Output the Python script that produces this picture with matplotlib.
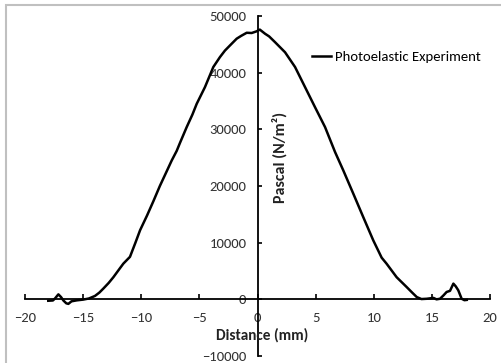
import matplotlib
matplotlib.use("Agg")
import matplotlib.pyplot as plt
from matplotlib.patches import Rectangle

plt.rcParams["font.family"] = ["Carlito", "Lato", "DejaVu Sans"]

# Photoelastic stress profile
distance_mm = [
    -18.0, -17.6, -17.42, -17.13, -16.9, -16.7, -16.45, -16.27, -16.0, -15.55,
    -15.0, -14.5, -13.98, -13.6, -13.26, -12.8, -12.4, -11.9, -11.54, -10.97,
    -10.5, -10.1, -9.5, -8.96, -8.4, -7.81, -7.38, -6.95, -6.67, -6.09,
    -5.6, -5.23, -4.52, -3.8, -3.23, -2.8, -2.37, -1.79, -1.4, -0.93,
    -0.5, -0.07, 0.2, 0.65, 1.0, 1.5, 2.37, 3.23, 4.09, 4.95,
    5.81, 6.67, 7.38, 8.24, 9.1, 9.96, 10.68, 11.1, 11.97, 12.83,
    13.3, 13.7, 14.1, 14.56, 15.13, 15.4, 15.7, 16.0, 16.27, 16.56,
    16.85, 17.05, 17.27, 17.56, 17.8, 18.0,
]
pressure_pa = [
    -250, -200, 150, 880, 400, -200, -700, -800, -350, -180,
    -50, 150, 600, 1200, 1900, 2900, 3900, 5300, 6300, 7500,
    10000, 12200, 14800, 17300, 20000, 22600, 24500, 26200, 27600, 30400,
    32600, 34500, 37450, 41000, 42750, 43900, 44800, 46000, 46500, 47040,
    47000, 47300, 47600, 46870, 46400, 45400, 43600, 41000, 37450, 33900,
    30400, 26000, 22750, 18650, 14500, 10400, 7350, 6300, 3900, 2170,
    1200, 400, 50, 100, 250, 0, 100, 700, 1300, 1500,
    2770, 2300, 1600, 100, -150, -100,
]

xlim = (-20, 20)
ylim = (-10000, 50000)
xticks = [-20, -15, -10, -5, 0, 5, 10, 15, 20]
yticks = [-10000, 0, 10000, 20000, 30000, 40000, 50000]

W, H = 501, 363
fig = plt.figure(figsize=(W / 100, H / 100), dpi=100)
ax = fig.add_axes([25 / W, 1 - 356 / H, (490 - 25) / W, (356 - 16) / H])

ax.plot(distance_mm, pressure_pa, color="black", lw=1.8,
        label="Photoelastic Experiment")

ax.set_xlim(*xlim)
ax.set_ylim(*ylim)
ax.set_xticks(xticks)
ax.set_yticks(yticks)

# axes cross at the origin, Excel style
ax.spines["left"].set_position(("data", 0))
ax.spines["bottom"].set_position(("data", 0))
ax.spines["top"].set_visible(False)
ax.spines["right"].set_visible(False)
for s in ("left", "bottom"):
    ax.spines[s].set_linewidth(1.3)

ax.tick_params(axis="x", direction="in", length=3.5, width=1.2, pad=9,
               labelsize=10.5, labelcolor="#333333")
ax.tick_params(axis="y", direction="in", length=3, width=1.2, pad=8,
               labelsize=10.5, labelcolor="#333333")
ax.patch.set_visible(False)

fig.text(262 / W, 1 - 335 / H, "Distance (mm)", ha="center", va="center",
         fontsize=11, fontweight="bold", color="#222222")
fig.text(280 / W, 1 - 157 / H, "Pascal (N/m²)", ha="center", va="center",
         rotation=90, fontsize=11.5, fontweight="bold", color="#222222")

ax.legend(loc="center left", bbox_to_anchor=(312 / W, 1 - 57 / H),
          bbox_transform=fig.transFigure, frameon=False, borderpad=0,
          borderaxespad=0, handlelength=1.3, handletextpad=0.25,
          fontsize=10.6)

# chart area border
fig.add_artist(Rectangle((6 / W, -0.1), 1.0, 1.1 - 4.5 / H,
                         transform=fig.transFigure, fill=False,
                         edgecolor="#c0c0c0", lw=1.5))

fig.savefig("out.png", dpi=100)
